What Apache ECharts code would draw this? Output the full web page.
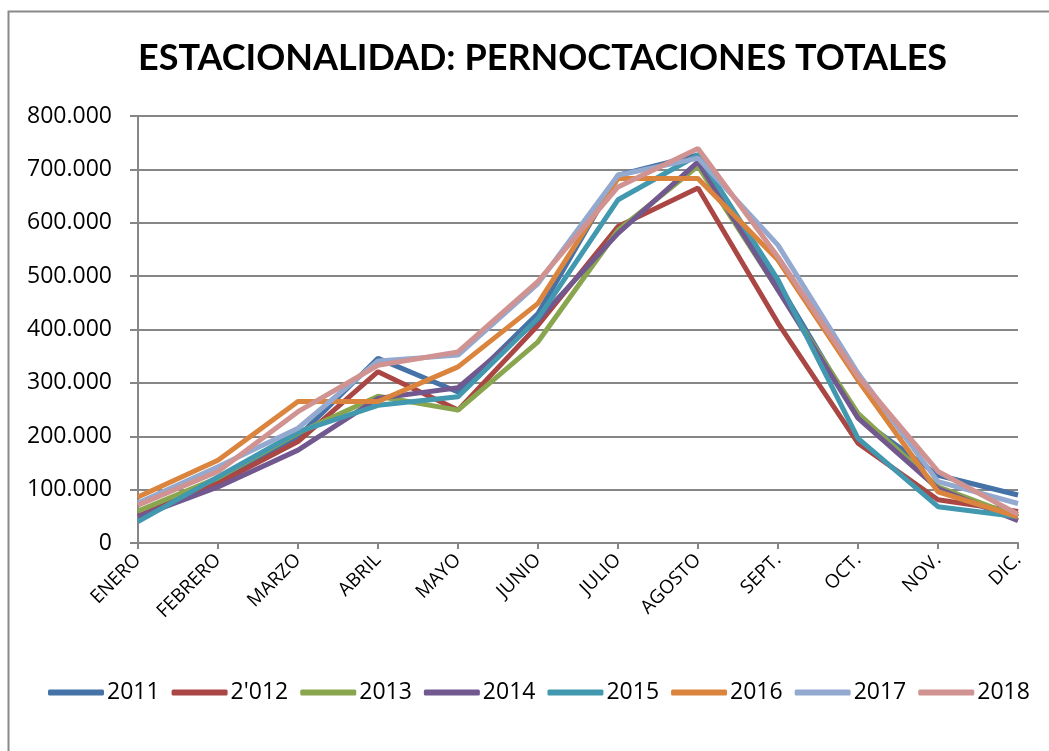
<!DOCTYPE html>
<html>
<head>
<meta charset="utf-8">
<script src="https://cdn.jsdelivr.net/npm/echarts@6/dist/echarts.min.js"></script>
<style>
  html, body { margin: 0; padding: 0; background: #fff; }
  #main { width: 1049px; height: 751px; }
</style>
</head>
<body>
<div id="main"></div>
<script>
var months = ['ENERO','FEBRERO','MARZO','ABRIL','MAYO','JUNIO','JULIO','AGOSTO','SEPT.','OCT.','NOV.','DIC.'];
var years = ['2011', "2'012", '2013', '2014', '2015', '2016', '2017', '2018'];
var colors = ['#4572A7','#AA4643','#89A54E','#71588F','#4198AF','#DB843D','#93A9CF','#D19392'];

var v2011 = [50000, 115000, 199000, 346000, 283000, 430000, 689000, 727000, 487000, 235000, 127000, 90000];
var v2012 = [50000, 112000, 190000, 321000, 249000, 408000, 593000, 665000, 412000, 187000, 81000, 59000];
var v2013 = [60000, 122000, 206000, 275000, 249000, 377000, 586000, 706000, 474000, 243000, 105000, 49000];
var v2014 = [49000, 105000, 174000, 271000, 291000, 418000, 580000, 714000, 474000, 234000, 102000, 42000];
var v2015 = [40000, 124000, 208000, 258000, 274000, 421000, 643000, 727000, 493000, 196000, 68000, 49000];
var v2016 = [86000, 155000, 265000, 265000, 330000, 449000, 683000, 683000, 530000, 305000, 96000, 49000];
var v2017 = [75000, 143000, 215000, 341000, 352000, 486000, 689000, 721000, 558000, 318000, 115000, 74000];
var v2018 = [71000, 134000, 246000, 333000, 358000, 490000, 667000, 739000, 536000, 312000, 134000, 54000];
var values = [v2011, v2012, v2013, v2014, v2015, v2016, v2017, v2018];

var app = echarts.init(document.getElementById('main'));

function fmt(v) {
  return String(v).replace(/\B(?=(\d{3})+(?!\d))/g, '.');
}

option = {
    animation: false,
    color: colors,
    title: {
        text: 'ESTACIONALIDAD: PERNOCTACIONES TOTALES',
        left: 133,
        top: 35,
        textStyle: {fontFamily: 'Lato', fontWeight: 'bold', fontSize: 36, color: '#000'}
    },
    graphic: [{
        type: 'rect',
        shape: {x: 8.5, y: 11.5, width: 1100, height: 800},
        style: {fill: 'none', stroke: '#898989', lineWidth: 2},
        silent: true
    }],
    grid: {left: 138, right: 31, top: 116, bottom: 208},
    xAxis: {
        type: 'category',
        data: months,
        boundaryGap: false,
        axisLine: {lineStyle: {color: '#868686', width: 2}},
        axisTick: {show: true, length: 6, alignWithLabel: true, lineStyle: {color: '#868686', width: 2}},
        axisLabel: {
            rotate: 45,
            interval: 0,
            margin: 14,
            color: '#000',
            fontFamily: 'Open Sans',
            fontSize: 19
        }
    },
    yAxis: {
        type: 'value',
        min: 0,
        max: 800000,
        interval: 100000,
        axisLine: {show: true, lineStyle: {color: '#868686', width: 2}},
        axisTick: {show: true, length: 8, lineStyle: {color: '#868686', width: 2}},
        splitLine: {lineStyle: {color: '#868686', width: 2}},
        axisLabel: {
            formatter: fmt,
            margin: 26,
            color: '#000',
            fontFamily: 'Open Sans',
            fontSize: 23
        }
    },
    legend: {
        bottom: 42,
        left: 43,
        itemWidth: 56,
        itemHeight: 6,
        itemGap: 12,
        icon: 'roundRect',
        textStyle: {fontFamily: 'Open Sans', fontSize: 23, color: '#000', padding: [0, 0, 0, -2]},
        data: years
    },
    series: years.map(function (y, i) {
        return {
            name: y,
            type: 'line',
            data: values[i],
            showSymbol: false,
            symbol: 'none',
            lineStyle: {width: 5, color: colors[i]},
            itemStyle: {color: colors[i]}
        };
    })
};

app.setOption(option);
</script>
</body>
</html>
